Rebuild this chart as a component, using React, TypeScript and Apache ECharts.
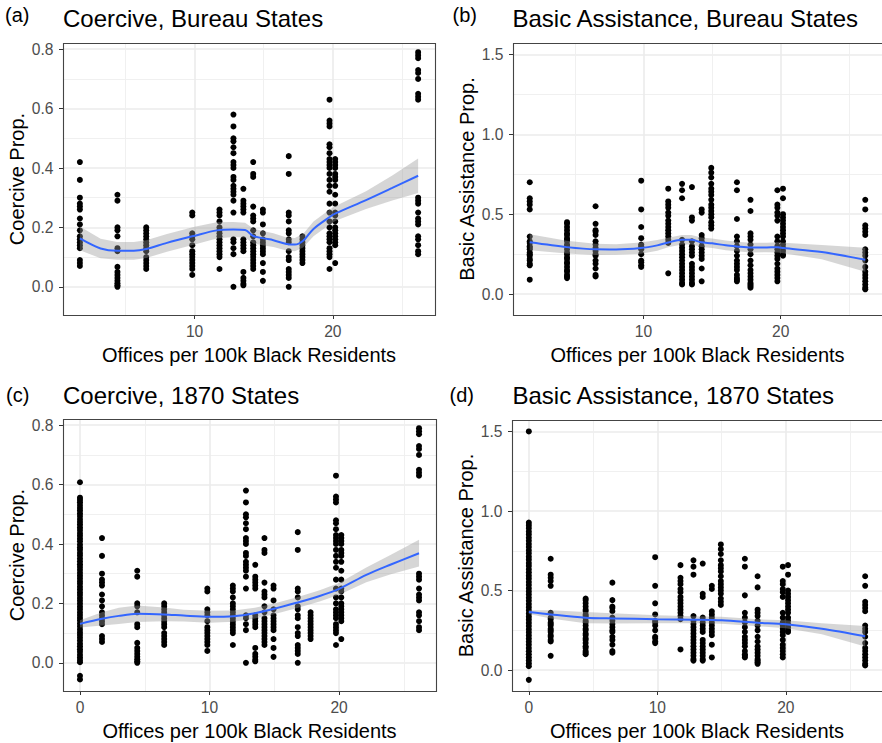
import React, { useEffect, useRef } from "react";
import * as echarts from "echarts";

// ---------- Data ----------
// Offices per 100k Black residents for each state group (columns of points)
const officeLevels = [1.7, 4.42, 6.5, 9.83, 11.8, 12.81, 13.53, 14.24, 14.94, 16.81, 17.8, 19.76, 20.17, 26.17];

// Coercive proportion observations at each office level (Bureau states)
const coerciveByOffice: number[][] = [
  [0.42, 0.36, 0.3, 0.28, 0.27, 0.26, 0.23, 0.21, 0.19, 0.17, 0.16, 0.15, 0.14, 0.13, 0.09, 0.08, 0.07],
  [0.31, 0.29, 0.2, 0.19, 0.17, 0.13, 0.12, 0.067, 0.05, 0.04, 0.03, 0.02, 0.012, 0.005, 0.0],
  [0.2, 0.19, 0.18, 0.17, 0.16, 0.15, 0.14, 0.13, 0.12, 0.1, 0.09, 0.08, 0.07, 0.06],
  [0.25, 0.24, 0.18, 0.17, 0.16, 0.14, 0.12, 0.11, 0.1, 0.09, 0.08, 0.07, 0.06, 0.04],
  [0.26, 0.25, 0.24, 0.22, 0.2, 0.19, 0.18, 0.17, 0.16, 0.15, 0.14, 0.13, 0.12, 0.11, 0.1, 0.06],
  [0.58, 0.54, 0.5, 0.49, 0.47, 0.45, 0.42, 0.41, 0.4, 0.37, 0.36, 0.34, 0.33, 0.32, 0.31, 0.29, 0.25, 0.16, 0.15, 0.13, 0.11, 0.0],
  [0.33, 0.29, 0.28, 0.27, 0.26, 0.25, 0.16, 0.15, 0.14, 0.13, 0.12, 0.05, 0.03, 0.02, 0.01, 0.005],
  [0.42, 0.38, 0.37, 0.27, 0.24, 0.23, 0.22, 0.19, 0.17, 0.15, 0.14, 0.13, 0.12, 0.11, 0.1, 0.09, 0.08, 0.07, 0.06],
  [0.26, 0.25, 0.21, 0.18, 0.16, 0.15, 0.14, 0.13, 0.12, 0.11, 0.08, 0.05, 0.02],
  [0.44, 0.38, 0.25, 0.24, 0.22, 0.19, 0.18, 0.16, 0.15, 0.12, 0.1, 0.09, 0.06, 0.05, 0.04, 0.03, 0.0],
  [0.17, 0.16, 0.15, 0.14, 0.13, 0.12, 0.11, 0.1, 0.09, 0.08],
  [0.63, 0.56, 0.55, 0.54, 0.48, 0.47, 0.45, 0.43, 0.42, 0.41, 0.4, 0.38, 0.36, 0.34, 0.32, 0.28, 0.25, 0.22, 0.2, 0.18, 0.17, 0.16, 0.15, 0.13, 0.12, 0.11, 0.1, 0.06],
  [0.43, 0.42, 0.41, 0.4, 0.38, 0.37, 0.36, 0.34, 0.31, 0.28, 0.25, 0.24, 0.22, 0.2, 0.19, 0.18, 0.17, 0.16, 0.15, 0.14, 0.08],
  [0.79, 0.78, 0.77, 0.73, 0.72, 0.7, 0.65, 0.64, 0.63, 0.3, 0.29, 0.28, 0.25, 0.23, 0.22, 0.21, 0.17, 0.16, 0.14, 0.12, 0.11],
];

// Basic assistance proportion observations at each office level (Bureau states)
const basicByOffice: number[][] = [
  [0.7, 0.6, 0.58, 0.56, 0.53, 0.36, 0.33, 0.32, 0.3, 0.29, 0.28, 0.26, 0.25, 0.24, 0.22, 0.21, 0.19, 0.18, 0.09],
  [0.45, 0.44, 0.42, 0.4, 0.38, 0.37, 0.35, 0.34, 0.33, 0.31, 0.3, 0.28, 0.26, 0.25, 0.23, 0.22, 0.2, 0.19, 0.17, 0.15, 0.14, 0.12, 0.11, 0.1],
  [0.55, 0.44, 0.4, 0.39, 0.37, 0.33, 0.31, 0.29, 0.27, 0.25, 0.24, 0.21, 0.19, 0.16, 0.12, 0.11],
  [0.71, 0.53, 0.42, 0.35, 0.31, 0.3, 0.28, 0.25, 0.21, 0.2, 0.18, 0.17],
  [0.66, 0.58, 0.56, 0.54, 0.51, 0.49, 0.46, 0.44, 0.42, 0.4, 0.38, 0.36, 0.34, 0.32, 0.13],
  [0.69, 0.65, 0.6, 0.34, 0.31, 0.29, 0.27, 0.25, 0.23, 0.21, 0.19, 0.17, 0.15, 0.13, 0.11, 0.09, 0.07, 0.06],
  [0.67, 0.48, 0.46, 0.33, 0.3, 0.28, 0.26, 0.24, 0.19, 0.17, 0.15, 0.13, 0.11, 0.09, 0.07, 0.06],
  [0.53, 0.51, 0.37, 0.35, 0.33, 0.3, 0.28, 0.26, 0.24, 0.22, 0.16, 0.08],
  [0.79, 0.76, 0.73, 0.69, 0.66, 0.64, 0.62, 0.59, 0.56, 0.54, 0.52, 0.5, 0.48, 0.45, 0.43, 0.41],
  [0.7, 0.65, 0.47, 0.36, 0.33, 0.3, 0.27, 0.24, 0.21, 0.19, 0.17, 0.15, 0.12, 0.1, 0.09, 0.08],
  [0.59, 0.52, 0.38, 0.36, 0.34, 0.31, 0.28, 0.25, 0.21, 0.18, 0.15, 0.13, 0.11, 0.09, 0.07, 0.06, 0.05, 0.04],
  [0.65, 0.56, 0.54, 0.51, 0.49, 0.46, 0.36, 0.33, 0.3, 0.28, 0.26, 0.24, 0.22, 0.19, 0.16, 0.14, 0.12, 0.1, 0.08],
  [0.66, 0.6, 0.5, 0.48, 0.46, 0.44, 0.42, 0.4, 0.38, 0.36, 0.33, 0.31, 0.29, 0.27, 0.25, 0.24],
  [0.59, 0.53, 0.43, 0.41, 0.39, 0.37, 0.28, 0.26, 0.24, 0.21, 0.17, 0.14, 0.12, 0.1, 0.08, 0.06, 0.04, 0.03],
];

// States with zero offices (only in the 1870 states sample)
const coerciveNoOffice = [
  0.608, 0.556, 0.549, 0.541, 0.531, 0.522, 0.513, 0.503, 0.494, 0.484, 0.475, 0.466, 0.456, 0.447, 0.437,
  0.428, 0.418, 0.409, 0.398, 0.389, 0.381, 0.37, 0.361, 0.351, 0.342, 0.332, 0.323, 0.313, 0.303, 0.294,
  0.285, 0.275, 0.266, 0.256, 0.247, 0.237, 0.228, 0.218, 0.209, 0.199, 0.189, 0.18, 0.17, 0.161, 0.151,
  0.142, 0.132, 0.123, 0.113, 0.103, 0.094, 0.084, 0.075, 0.065, 0.056, 0.046, 0.037, 0.027, 0.018, 0.009,
  0.002, -0.044, -0.056,
];
const basicNoOffice = [
  1.5, 0.927, 0.91, 0.892, 0.871, 0.853, 0.832, 0.813, 0.792, 0.774, 0.753, 0.734, 0.713, 0.694, 0.673,
  0.655, 0.634, 0.614, 0.594, 0.575, 0.554, 0.535, 0.514, 0.495, 0.475, 0.455, 0.436, 0.415, 0.396, 0.376,
  0.356, 0.336, 0.317, 0.297, 0.277, 0.257, 0.238, 0.218, 0.198, 0.178, 0.159, 0.139, 0.119, 0.1, 0.08,
  0.061, 0.042, 0.025, -0.061,
];

// Loess fits and standard-error half widths
const loessAX = [1.7, 3.2, 4.4, 5.6, 6.5, 8.0, 10.0, 11.6, 12.8, 13.65, 14.25, 15.0, 15.7, 16.65, 17.25, 17.85, 18.6, 19.8, 20.2, 22.4, 24.3, 26.17];
const loessAFit = [0.163, 0.129, 0.121, 0.121, 0.127, 0.148, 0.172, 0.19, 0.193, 0.191, 0.171, 0.163, 0.157, 0.144, 0.142, 0.155, 0.195, 0.236, 0.247, 0.292, 0.333, 0.374];
const loessASe = [0.04, 0.033, 0.03, 0.03, 0.03, 0.03, 0.03, 0.027, 0.025, 0.025, 0.025, 0.024, 0.023, 0.022, 0.022, 0.023, 0.025, 0.025, 0.025, 0.03, 0.042, 0.058];

const loessBX = [1.7, 4.4, 6.5, 8.0, 9.8, 11.0, 11.8, 12.8, 13.5, 14.2, 15.0, 16.0, 16.8, 17.8, 19.0, 19.8, 20.2, 23.0, 26.17];
const loessBFit = [0.324, 0.294, 0.28, 0.279, 0.288, 0.305, 0.323, 0.34, 0.34, 0.324, 0.318, 0.305, 0.298, 0.291, 0.292, 0.293, 0.288, 0.263, 0.215];
const loessBSe = [0.05, 0.04, 0.035, 0.033, 0.035, 0.033, 0.03, 0.03, 0.03, 0.03, 0.03, 0.03, 0.03, 0.03, 0.03, 0.032, 0.033, 0.045, 0.075];

const loessCX = [0, 1.7, 3.0, 4.4, 6.5, 8.0, 10.0, 11.85, 13.5, 14.9, 16.7, 18.5, 20.0, 22.1, 24.0, 26.17];
const loessCFit = [0.131, 0.148, 0.158, 0.165, 0.163, 0.159, 0.155, 0.157, 0.167, 0.181, 0.202, 0.225, 0.249, 0.296, 0.331, 0.369];
const loessCSe = [0.012, 0.022, 0.027, 0.028, 0.023, 0.02, 0.02, 0.019, 0.018, 0.018, 0.018, 0.019, 0.02, 0.025, 0.033, 0.045];

const loessDX = [0, 1.7, 4.4, 6.5, 10, 12.8, 15, 17.8, 20, 22.8, 26.17];
const loessDFit = [0.365, 0.35, 0.33, 0.325, 0.32, 0.317, 0.313, 0.298, 0.288, 0.26, 0.213];
const loessDSe = [0.012, 0.026, 0.035, 0.032, 0.025, 0.022, 0.022, 0.022, 0.025, 0.035, 0.065];

const xTicksBureau = [10, 20];
const xTicks1870 = [0, 10, 20];
const yTicksCoercive = [0, 0.2, 0.4, 0.6, 0.8];
const yTicksBasic = [0, 0.5, 1.0, 1.5];

const panelTags = ["(a)", "(b)", "(c)", "(d)"];
const panelTitles = [
  "Coercive, Bureau States",
  "Basic Assistance, Bureau States",
  "Coercive, 1870 States",
  "Basic Assistance, 1870 States",
];
const xAxisTitle = "Offices per 100k Black Residents";
const yAxisTitles = ["Coercive Prop.", "Basic Assistance Prop.", "Coercive Prop.", "Basic Assistance Prop."];

// ---------- Chart ----------
const FONT = "'Liberation Sans', Arial, Helvetica, sans-serif";

// panel rectangles (layout)
const PANELS = [
  { left: 63, top: 43, width: 372, height: 272 },
  { left: 513, top: 43, width: 372, height: 272 },
  { left: 63, top: 419, width: 373, height: 272 },
  { left: 512, top: 420, width: 373, height: 271 },
];

function buildPoints(levels: number[], cols: number[][], zeroCol?: number[]) {
  const pts: number[][] = [];
  if (zeroCol) zeroCol.forEach((v) => pts.push([0, v]));
  levels.forEach((x, i) => cols[i].forEach((v) => pts.push([x, v])));
  return pts;
}

function panelSeries(idx: number, pts: number[][], sx: number[], fit: number[], se: number[]) {
  const common = { xAxisIndex: idx, yAxisIndex: idx, silent: true };
  const bandData = sx.map((x, i) => [x, fit[i] - se[i], fit[i] + se[i]]);
  return [
    {
      ...common,
      type: "scatter",
      data: pts,
      symbolSize: 6,
      itemStyle: { color: "#000000", opacity: 1 },
      z: 2,
    },
    {
      ...common,
      type: "custom",
      data: bandData,
      encode: { x: 0, y: [1, 2] },
      z: 3,
      renderItem: (params: any, api: any) => {
        if (params.dataIndex !== 0) return null;
        const upper = bandData.map((d) => api.coord([d[0], d[2]]));
        const lower = bandData.map((d) => api.coord([d[0], d[1]])).reverse();
        return {
          type: "polygon",
          silent: true,
          shape: { points: upper.concat(lower) },
          style: { fill: "rgba(153,153,153,0.4)", stroke: null },
        };
      },
    },
    {
      ...common,
      type: "line",
      data: sx.map((x, i) => [x, fit[i]]),
      symbol: "none",
      smooth: 0.3,
      lineStyle: { color: "#3366FF", width: 2 },
      z: 4,
    },
  ];
}

const majorGrid = { show: true, lineStyle: { color: "#EBEBEB", width: 1.6 } };
const minorGrid = { show: true, lineStyle: { color: "#EEEEEE", width: 0.9 } };

function makeXAxis(idx: number, min: number, max: number, ticks: number[]) {
  return {
    type: "value",
    gridIndex: idx,
    position: "bottom",
    min,
    max,
    splitNumber: 3,
    name: xAxisTitle,
    nameLocation: "middle",
    nameGap: 29.5,
    nameTextStyle: { fontSize: 20, color: "#000000", fontFamily: FONT },
    axisLine: { show: false, onZero: false },
    axisTick: { show: true, length: 4, inside: false, customValues: ticks, lineStyle: { color: "#333333", width: 1 } },
    axisLabel: {
      customValues: ticks,
      margin: 8.5,
      fontSize: 15.6,
      color: "#4D4D4D",
      fontFamily: FONT,
      formatter: (v: number) => String(Math.round(v)),
    },
    splitLine: majorGrid,
    minorTick: { show: false, splitNumber: 2 },
    minorSplitLine: minorGrid,
  };
}

function makeYAxis(idx: number, min: number, max: number, ticks: number[], splitNumber: number) {
  return {
    type: "value",
    gridIndex: idx,
    position: "left",
    min,
    max,
    splitNumber,
    name: yAxisTitles[idx],
    nameLocation: "middle",
    nameGap: 36.5,
    nameTextStyle: { fontSize: 20, color: "#000000", fontFamily: FONT },
    axisLine: { show: false, onZero: false },
    axisTick: { show: true, length: 4, inside: false, customValues: ticks, lineStyle: { color: "#333333", width: 1 } },
    axisLabel: {
      customValues: ticks,
      margin: 9.5,
      fontSize: 15.6,
      color: "#4D4D4D",
      fontFamily: FONT,
      formatter: (v: number) => v.toFixed(1),
    },
    splitLine: majorGrid,
    minorTick: { show: false, splitNumber: 2 },
    minorSplitLine: minorGrid,
  };
}

function textEl(text: string, x: number, y: number, size: number) {
  return {
    type: "text",
    x,
    y,
    silent: true,
    style: {
      text,
      fontSize: size,
      fontFamily: FONT,
      fill: "#000000",
      align: "left",
      verticalAlign: "middle",
      textAlign: "left",
      textVerticalAlign: "middle",
    },
  };
}

function borderEl(p: { left: number; top: number; width: number; height: number }) {
  return {
    type: "rect",
    silent: true,
    z: 100,
    shape: { x: p.left + 0.5, y: p.top + 0.5, width: p.width, height: p.height },
    style: { fill: "none", stroke: "#444444", lineWidth: 1.1 },
  };
}

export default function App() {
  const ref = useRef<HTMLDivElement>(null);

  useEffect(() => {
    if (!ref.current) return;
    const chart = echarts.init(ref.current, undefined, { renderer: "svg" });

    const grids = PANELS.map((p) => ({ ...p, show: false, containLabel: false }));

    const ptsA = buildPoints(officeLevels, coerciveByOffice);
    const ptsB = buildPoints(officeLevels, basicByOffice);
    const ptsC = buildPoints(officeLevels, coerciveByOffice, coerciveNoOffice);
    const ptsD = buildPoints(officeLevels, basicByOffice, basicNoOffice);

    const option = {
      animation: false,
      backgroundColor: "#ffffff",
      textStyle: { fontFamily: FONT },
      grid: grids,
      xAxis: [
        makeXAxis(0, 0.48, 27.39, xTicksBureau),
        makeXAxis(1, 0.48, 27.39, xTicksBureau),
        makeXAxis(2, -1.31, 27.48, xTicks1870),
        makeXAxis(3, -1.31, 27.48, xTicks1870),
      ],
      yAxis: [
        makeYAxis(0, -0.095, 0.821, yTicksCoercive, 5),
        makeYAxis(1, -0.131, 1.572, yTicksBasic, 3),
        makeYAxis(2, -0.095, 0.821, yTicksCoercive, 5),
        makeYAxis(3, -0.131, 1.572, yTicksBasic, 3),
      ],
      series: [
        ...panelSeries(0, ptsA, loessAX, loessAFit, loessASe),
        ...panelSeries(1, ptsB, loessBX, loessBFit, loessBSe),
        ...panelSeries(2, ptsC, loessCX, loessCFit, loessCSe),
        ...panelSeries(3, ptsD, loessDX, loessDFit, loessDSe),
      ],
      graphic: [
        ...PANELS.map(borderEl),
        textEl(panelTags[0], 5, 15, 20),
        textEl(panelTitles[0], 63, 18.4, 24),
        textEl(panelTags[1], 452.5, 15, 20),
        textEl(panelTitles[1], 512.5, 18.4, 24),
        textEl(panelTags[2], 6, 395.3, 20),
        textEl(panelTitles[2], 63, 395.4, 24),
        textEl(panelTags[3], 449.5, 395.3, 20),
        textEl(panelTitles[3], 512.5, 395.4, 24),
      ],
    };

    chart.setOption(option as any);
    return () => {
      chart.dispose();
    };
  }, []);

  return (
    <div
      ref={ref}
      style={{ position: "absolute", left: 0, top: 0, width: 882, height: 743, background: "#ffffff" }}
    />
  );
}
